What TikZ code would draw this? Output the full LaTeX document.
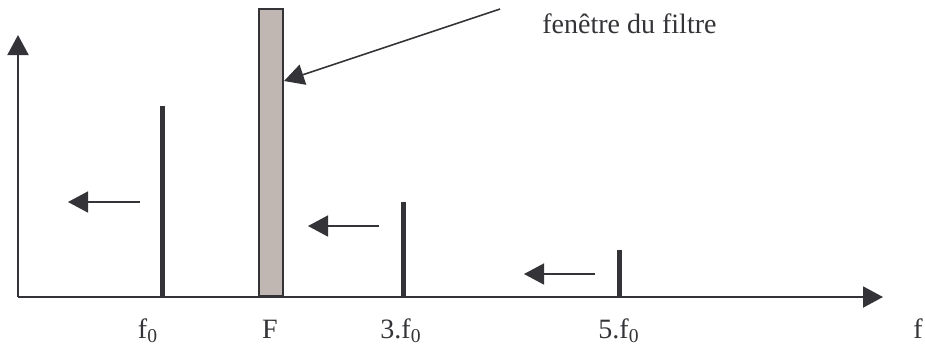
\documentclass[tikz,border=0pt]{standalone}
\usepackage{fontspec}
\setmainfont{Liberation Serif}
\usetikzlibrary{arrows.meta,positioning}
\definecolor{mydark}{RGB}{52,52,56}
\definecolor{mygrey}{RGB}{192,182,178}
\tikzset{
  axis/.style={draw=mydark,line width=1pt,-{Triangle[length=10pt,width=10.5pt]}},
  shiftarr/.style={draw=mydark,line width=0.8pt,-{Triangle[length=10pt,width=10.5pt]}},
  spike/.style={draw=mydark,line width=2.5pt},
  lbl/.style={anchor=base,inner sep=0pt,font=\fontsize{14}{16}\selectfont,text=mydark},
}
\begin{document}
\begin{tikzpicture}[x=0.5pt,y=-0.5pt]
  \useasboundingbox (0,0) rectangle (925,345);
  % axes
  \coordinate (O) at (18,297);
  \coordinate (ytop) at (18,35);
  \coordinate (xend) at (883,297);
  \draw[axis] (O) -- (ytop);
  \draw[axis] (O) -- (xend);

  % filter window
  \node[draw=mydark,fill=mygrey,line width=1pt,minimum width=12pt,minimum height=143.5pt,
        inner sep=0pt,anchor=south] (win) at (271,297) {};
  \node[lbl,anchor=base west] (wintxt) at (542,33) {fenêtre du filtre};
  \coordinate (wintail) at (500,9);
  \draw[axis,line width=0.8pt] (wintail) -- (win.east |- 0,81);

  % spectral lines
  \coordinate (f1) at (162,106);
  \coordinate (f3) at (403,202);
  \coordinate (f5) at (619,250);
  \draw[spike] (f1) -- (f1 |- O);
  \draw[spike] (f3) -- (f3 |- O);
  \draw[spike] (f5) -- (f5 |- O);

  % shifts
  \coordinate (s1a) at (140,202); \coordinate (s1b) at (68,202);
  \coordinate (s3a) at (379,226); \coordinate (s3b) at (308,226);
  \coordinate (s5a) at (595,274); \coordinate (s5b) at (524,274);
  \draw[shiftarr] (s1a) -- (s1b);
  \draw[shiftarr] (s3a) -- (s3b);
  \draw[shiftarr] (s5a) -- (s5b);

  % labels
  \node[lbl] (lf1) at (148,338) {f\textsubscript{0}};
  \node[lbl] (lF) at (270,338) {F};
  \node[lbl] (lf3) at (401,338) {3.f\textsubscript{0}};
  \node[lbl] (lf5) at (619,338) {5.f\textsubscript{0}};
  \node[lbl,anchor=base east] (lf) at (923,338) {f};
\end{tikzpicture}
\end{document}
